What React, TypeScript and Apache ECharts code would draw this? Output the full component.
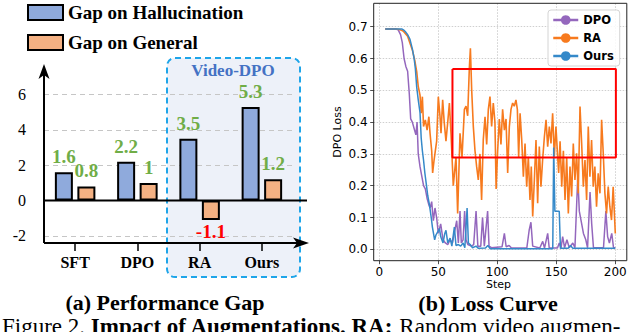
import React, { useEffect, useRef } from 'react';
import * as echarts from 'echarts';

// ---------- (a) Performance Gap ----------
const categories = ['SFT', 'DPO', 'RA', 'Ours'];
const gapHallucination = [1.6, 2.2, 3.5, 5.3];
const gapGeneral = [0.8, 1, -1.1, 1.2];
const barTickValues = [-2, 0, 2, 4, 6];
const barGridValues = [6, 4, 2, -2];

// ---------- (b) Loss Curve ----------
const lossTickValues = [0, 0.1, 0.2, 0.3, 0.4, 0.5, 0.6, 0.7];
const stepTickValues = [0, 50, 100, 150, 200];

const raSteps = [5, 10, 14, 16, 18, 20.4, 22, 24, 26, 28, 30, 31.7, 33, 34.5, 35.5, 36.5, 37.5, 39, 40.5, 42, 43, 44.4, 45.2, 46.4, 47.5, 48.6, 50, 51.4, 52.3, 53.7, 55, 56.5, 58, 59.4, 60.8, 62.7, 65, 66.4, 68.4, 70.1, 72.1, 73.5, 74.9, 76.3, 77.2, 78.3, 79.7, 81.1, 82.5, 83.9, 85.3, 86.7, 88.1, 89.6, 91, 92.4, 93.8, 95.2, 96.6, 98, 99, 100.3, 101.7, 103.1, 104.5, 106, 107.4, 108.8, 110.2, 111.6, 113, 114.4, 115.8, 117, 118.1, 119.3, 120.7, 122.1, 123.5, 124.9, 126.3, 127.7, 128.8, 130, 131.4, 132.8, 134.2, 135.6, 137, 138.4, 139.9, 141.3, 142.7, 144.1, 145.5, 146.9, 148.3, 149.7, 151, 152, 153.2, 154.6, 156, 157.4, 158.8, 160.2, 161.6, 163, 164.4, 165.8, 167.2, 168.6, 170.1, 171.5, 172.9, 174.3, 175.7, 177.1, 178.5, 179.9, 181.3, 182.7, 184.1, 185.5, 187, 188.4, 189.8, 191.2, 192.6, 194, 195.4, 196.8, 198.2, 200];
const raLoss = [0.693, 0.693, 0.693, 0.692, 0.69, 0.686, 0.679, 0.67, 0.648, 0.627, 0.595, 0.559, 0.512, 0.485, 0.428, 0.48, 0.386, 0.407, 0.375, 0.417, 0.365, 0.31, 0.24, 0.28, 0.31, 0.34, 0.48, 0.42, 0.365, 0.47, 0.4, 0.34, 0.4, 0.46, 0.36, 0.2, 0.29, 0.113, 0.365, 0.29, 0.44, 0.45, 0.42, 0.57, 0.632, 0.5, 0.385, 0.31, 0.26, 0.218, 0.3, 0.155, 0.344, 0.417, 0.33, 0.44, 0.48, 0.386, 0.46, 0.4, 0.19, 0.31, 0.41, 0.33, 0.44, 0.375, 0.41, 0.24, 0.386, 0.44, 0.46, 0.45, 0.47, 0.44, 0.29, 0.428, 0.344, 0.228, 0.333, 0.197, 0.291, 0.155, 0.26, 0.103, 0.218, 0.344, 0.145, 0.323, 0.197, 0.281, 0.354, 0.407, 0.323, 0.386, 0.333, 0.428, 0.291, 0.386, 0.3, 0.24, 0.34, 0.197, 0.31, 0.155, 0.29, 0.113, 0.26, 0.166, 0.333, 0.218, 0.302, 0.176, 0.449, 0.333, 0.197, 0.281, 0.155, 0.386, 0.228, 0.344, 0.197, 0.26, 0.134, 0.239, 0.176, 0.407, 0.302, 0.176, 0.113, 0.197, 0.134, 0.092, 0.197, 0.05];

const dpoSteps = [5, 14, 16, 18, 19.5, 21, 22.5, 24, 25.4, 26.6, 28, 29.5, 31, 32, 33, 34.5, 36, 37.5, 39, 40.5, 42, 43, 44.4, 45.8, 47.2, 48.6, 50, 52, 54, 56, 58, 60, 62, 64, 65.6, 67, 68.4, 69.5, 71, 72.3, 73.5, 75, 78, 80, 82, 83.5, 86, 87.5, 89, 91.8, 93, 95, 104, 106, 107.5, 110, 112, 125, 127, 128.5, 130, 136, 138.5, 140, 142.7, 144, 151, 152.5, 154, 155.4, 157, 159, 161, 164, 165.8, 168.2, 169.5, 171, 173, 175, 176.5, 178.6, 180, 181.5, 190, 192, 193.5, 195, 197, 198.5, 200];
const dpoLoss = [0.693, 0.693, 0.69, 0.675, 0.65, 0.6, 0.575, 0.56, 0.49, 0.41, 0.4, 0.38, 0.36, 0.4, 0.3, 0.26, 0.23, 0.2, 0.19, 0.16, 0.14, 0.13, 0.15, 0.09, 0.13, 0.1, 0.05, 0.08, 0.03, 0.02, 0.015, 0.03, 0.02, 0.06, 0.09, 0.02, 0.12, 0.02, 0.03, 0.12, 0.03, 0.015, 0.01, 0.015, 0.12, 0.01, 0.01, 0.1, 0.01, 0.12, 0.01, 0.005, 0.008, 0.05, 0.008, 0.012, 0.004, 0.004, 0.06, 0.085, 0.01, 0.004, 0.025, 0.004, 0.05, 0.004, 0.004, 0.02, 0.004, 0.04, 0.005, 0.03, 0.005, 0.02, 0.005, 0.23, 0.12, 0.09, 0.05, 0.03, 0.005, 0.18, 0.08, 0.005, 0.005, 0.12, 0.04, 0.02, 0.05, 0.005, 0.005];

const oursSteps = [5, 19, 20.5, 22, 24, 26, 28, 29.5, 30.5, 31.7, 33, 34.5, 35.5, 36.5, 37.5, 38.6, 40, 41, 42.5, 44, 45, 46.9, 48, 49.5, 51, 52, 54, 55.5, 56.5, 58, 60, 61.5, 63.6, 65, 67, 69, 71, 72.5, 74.4, 75.5, 77, 79, 82, 84, 90, 92, 94, 147, 147.8, 148.8, 152.5, 153.5, 160, 162, 164, 200];
const oursLoss = [0.693, 0.693, 0.69, 0.685, 0.675, 0.66, 0.63, 0.6, 0.57, 0.51, 0.47, 0.43, 0.35, 0.31, 0.28, 0.24, 0.2, 0.17, 0.14, 0.1, 0.07, 0.03, 0.045, 0.055, 0.065, 0.04, 0.02, 0.05, 0.06, 0.02, 0.035, 0.01, 0.07, 0.012, 0.015, 0.01, 0.02, 0.005, 0.13, 0.02, 0.015, 0.005, 0.01, 0.003, 0.004, 0.012, 0.002, 0.002, 0.32, 0.12, 0.12, 0.003, 0.003, 0.012, 0.003, 0.003];

const highlightSteps = [62, 200.5];
const highlightLoss = [0.289, 0.567];

const SERIF = 'Liberation Serif';
const SANS = 'DejaVu Sans';

const pairs = (xs: number[], ys: number[]) => xs.map((x, i) => [x, ys[i]]);

const BAR_LEFT = 44;
const BAR_TOP = 68;
const BAR_W = 249;
const BAR_H = 175;
const Y_MIN = -2.4;
const Y_MAX = 7.5;

const LG_LEFT = 373.7;
const LG_TOP = 3.3;
const LG_W = 253.1;
const LG_H = 257.4;

export default function App() {
  const ref = useRef<HTMLDivElement>(null);

  useEffect(() => {
    if (!ref.current) return;
    const chart = echarts.init(ref.current, null, { renderer: 'svg' });

    const greenLabel = {
      show: true,
      position: 'top',
      distance: 6,
      fontFamily: SERIF,
      fontWeight: 'bold',
      fontSize: 19,
      color: '#70ad47',
    };

    const option: any = {
      animation: false,
      backgroundColor: '#ffffff',
      title: {
        text: 'Step',
        left: 486,
        top: 278,
        padding: 0,
        textStyle: { fontFamily: SANS, fontSize: 11, fontWeight: 'normal', color: '#000', lineHeight: 13 },
      },
      legend: [
        {
          data: ['Gap on Hallucination', 'Gap on General'],
          orient: 'vertical',
          left: 27,
          top: 3,
          padding: 0,
          icon: 'rect',
          itemWidth: 35,
          itemHeight: 15,
          itemGap: 11,
          selectedMode: false,
          textStyle: { fontFamily: SERIF, fontWeight: 'bold', fontSize: 19, color: '#000' },
        },
        {
          data: ['DPO', 'RA', 'Ours'],
          orient: 'vertical',
          left: 548,
          top: 10,
          padding: [4, 6, 4, 4],
          itemWidth: 25,
          itemHeight: 12,
          itemGap: 6,
          selectedMode: false,
          backgroundColor: 'rgba(255,255,255,0.85)',
          borderColor: '#d4d4d4',
          borderWidth: 1,
          borderRadius: 3,
          lineStyle: { width: 2.5 },
          textStyle: { fontFamily: SANS, fontWeight: 'bold', fontSize: 11.5, color: '#000', lineHeight: 12 },
        },
      ],
      grid: [
        { left: BAR_LEFT, top: BAR_TOP, width: BAR_W, height: BAR_H },
        { left: LG_LEFT, top: LG_TOP, width: LG_W, height: LG_H },
      ],
      xAxis: [
        {
          type: 'category',
          gridIndex: 0,
          position: 'bottom',
          data: categories,
          axisLine: { show: false, onZero: false },
          axisTick: { show: true, alignWithLabel: true, length: 8, lineStyle: { color: '#000', width: 1.5 } },
          axisLabel: { fontFamily: SERIF, fontWeight: 'bold', fontSize: 16, color: '#000', margin: 11 },
          splitLine: { show: false },
        },
        {
          type: 'value',
          gridIndex: 1,
          position: 'bottom',
          min: -4.75,
          max: 209.75,
          splitNumber: 4,
          axisLine: { show: false, onZero: false },
          axisTick: { show: true, length: 3.5, customValues: stepTickValues, lineStyle: { color: '#222', width: 0.8 } },
          axisLabel: {
            customValues: stepTickValues,
            fontFamily: SANS,
            fontSize: 12,
            color: '#000',
            margin: 5,
            formatter: (v: number) => (Math.abs(v % 50) < 1e-6 ? String(Math.round(v)) : ''),
          },
          splitLine: { show: true, lineStyle: { color: '#cfcfcf', type: [1.5, 1.5], width: 1 } },
        },
      ],
      yAxis: [
        {
          type: 'value',
          gridIndex: 0,
          position: 'left',
          min: Y_MIN,
          max: Y_MAX,
          splitNumber: 5,
          axisLine: { show: false, onZero: false },
          axisTick: { show: false },
          splitLine: { show: false },
          axisLabel: {
            customValues: barTickValues,
            fontFamily: SERIF,
            fontSize: 16,
            color: '#000',
            margin: 18,
            formatter: (v: number) => (Math.abs(v - Math.round(v)) < 1e-6 && Math.round(v) % 2 === 0 ? String(v) : ''),
          },
        },
        {
          type: 'value',
          gridIndex: 1,
          position: 'left',
          min: -0.0358,
          max: 0.7736,
          splitNumber: 8,
          axisLine: { show: false, onZero: false },
          axisTick: { show: true, length: 3.5, customValues: lossTickValues, lineStyle: { color: '#222', width: 0.8 } },
          axisLabel: {
            customValues: lossTickValues,
            fontFamily: SANS,
            fontSize: 12,
            color: '#000',
            margin: 6,
            formatter: (v: number) => {
              const r = Math.round(v * 10) / 10;
              return Math.abs(v - r) < 1e-6 ? r.toFixed(1) : '';
            },
          },
          splitLine: { show: true, lineStyle: { color: '#cfcfcf', type: [1.5, 1.5], width: 1 } },
          name: 'DPO Loss',
          nameLocation: 'middle',
          nameGap: 31,
          nameRotate: 90,
          nameTextStyle: { fontFamily: SANS, fontSize: 11, color: '#000' },
        },
      ],
      series: [
        {
          name: 'Gap on Hallucination',
          type: 'bar',
          xAxisIndex: 0,
          yAxisIndex: 0,
          data: gapHallucination,
          barWidth: 18,
          barGap: '25%',
          z: 3,
          itemStyle: { color: '#8faadc', borderColor: '#000', borderWidth: 2 },
          label: greenLabel,
          markLine: {
            silent: true,
            z: 1,
            symbol: ['none', 'none'],
            label: { show: false },
            lineStyle: { color: '#c6c6c6', type: [5, 4], width: 1.2 },
            data: barGridValues.map((v) => ({ yAxis: v })),
          },
        },
        {
          name: 'Gap on General',
          type: 'bar',
          xAxisIndex: 0,
          yAxisIndex: 0,
          barWidth: 18,
          barGap: '25%',
          z: 3,
          itemStyle: { color: '#f4b183', borderColor: '#000', borderWidth: 2 },
          label: greenLabel,
          data: gapGeneral.map((v) =>
            v < 0
              ? { value: v, label: { position: 'bottom', distance: 2, color: '#ff0000' } }
              : v
          ),
        },
        {
          name: 'DPO',
          type: 'line',
          xAxisIndex: 1,
          yAxisIndex: 1,
          data: pairs(dpoSteps, dpoLoss),
          symbol: 'none',
          z: 3,
          lineStyle: { color: '#9467bd', width: 1.5 },
          itemStyle: { color: '#9467bd' },
        },
        {
          name: 'RA',
          type: 'line',
          xAxisIndex: 1,
          yAxisIndex: 1,
          data: pairs(raSteps, raLoss),
          symbol: 'none',
          z: 4,
          lineStyle: { color: '#f77a1e', width: 1.6 },
          itemStyle: { color: '#f77a1e' },
        },
        {
          name: 'Ours',
          type: 'line',
          xAxisIndex: 1,
          yAxisIndex: 1,
          data: pairs(oursSteps, oursLoss),
          symbol: 'none',
          z: 5,
          lineStyle: { color: '#3589c9', width: 1.5 },
          itemStyle: { color: '#3589c9' },
        },
        {
          name: 'highlight',
          type: 'line',
          xAxisIndex: 1,
          yAxisIndex: 1,
          silent: true,
          symbol: 'none',
          z: 6,
          lineStyle: { color: '#ff0000', width: 2 },
          itemStyle: { color: '#ff0000' },
          data: [
            [highlightSteps[0], highlightLoss[1]],
            [highlightSteps[1], highlightLoss[1]],
            [highlightSteps[1], highlightLoss[0]],
            [highlightSteps[0], highlightLoss[0]],
            [highlightSteps[0], highlightLoss[1]],
          ],
        },
      ],
    };

    chart.setOption(option);

    const zeroY = chart.convertToPixel({ yAxisIndex: 0 } as any, 0) as number;
    const bottomY = chart.convertToPixel({ yAxisIndex: 0 } as any, Y_MIN) as number;
    const axisX = BAR_LEFT;

    chart.setOption({
      graphic: [
        {
          type: 'rect',
          id: 'videoBox',
          z: 0,
          silent: true,
          shape: { x: 167, y: 58, width: 133, height: 219, r: 8 },
          style: { fill: '#edf1f9', stroke: '#1ea5e9', lineWidth: 2, lineDash: [6, 4] },
        },
        {
          type: 'text',
          id: 'videoText',
          z: 10,
          x: 233,
          y: 70,
          style: {
            text: 'Video-DPO',
            fill: '#4472c4',
            font: `bold 17px "${SERIF}"`,
            align: 'center',
            verticalAlign: 'middle',
          },
        },
        {
          type: 'line',
          id: 'yAxisLine',
          z: 10,
          shape: { x1: axisX, y1: bottomY, x2: axisX, y2: 72 },
          style: { stroke: '#000', lineWidth: 2 },
        },
        {
          type: 'polygon',
          id: 'yArrow',
          z: 10,
          shape: { points: [[axisX - 5.5, 79], [axisX, 64], [axisX + 5.5, 79], [axisX, 75]] },
          style: { fill: '#000' },
        },
        {
          type: 'line',
          id: 'xAxisLine',
          z: 10,
          shape: { x1: axisX, y1: bottomY, x2: 300, y2: bottomY },
          style: { stroke: '#000', lineWidth: 2 },
        },
        {
          type: 'polygon',
          id: 'xArrow',
          z: 10,
          shape: { points: [[293, bottomY - 5.5], [309, bottomY], [293, bottomY + 5.5], [297, bottomY]] },
          style: { fill: '#000' },
        },
        {
          type: 'line',
          id: 'zeroLine',
          z: 10,
          shape: { x1: axisX, y1: zeroY, x2: 307, y2: zeroY },
          style: { stroke: '#000', lineWidth: 2 },
        },
        {
          type: 'rect',
          id: 'lossFrame',
          z: 10,
          silent: true,
          shape: { x: LG_LEFT, y: LG_TOP, width: LG_W, height: LG_H },
          style: { fill: 'none', stroke: '#222', lineWidth: 1 },
        },
        {
          type: 'text',
          id: 'capA',
          z: 10,
          x: 165,
          y: 302,
          style: {
            text: '(a) Performance Gap',
            fill: '#000',
            font: `bold 22px "${SERIF}"`,
            align: 'center',
            verticalAlign: 'middle',
          },
        },
        {
          type: 'text',
          id: 'capB',
          z: 10,
          x: 488,
          y: 303,
          style: {
            text: '(b) Loss Curve',
            fill: '#000',
            font: `bold 22px "${SERIF}"`,
            align: 'center',
            verticalAlign: 'middle',
          },
        },
        {
          type: 'text',
          id: 'figCaption',
          z: 10,
          x: 2,
          y: 326,
          style: {
            text: '{r|Figure 2. }{b|Impact of Augmentations. RA:}{r| Random video augmen-}',
            verticalAlign: 'middle',
            align: 'left',
            rich: {
              r: { fontFamily: SERIF, fontSize: 23, fill: '#000', color: '#000' },
              b: { fontFamily: SERIF, fontSize: 23, fontWeight: 'bold', fill: '#000', color: '#000' },
            },
          },
        },
      ],
    });

    return () => chart.dispose();
  }, []);

  return (
    <div
      ref={ref}
      style={{ position: 'fixed', left: 0, top: 0, width: 640, height: 332, background: '#fff' }}
    />
  );
}
